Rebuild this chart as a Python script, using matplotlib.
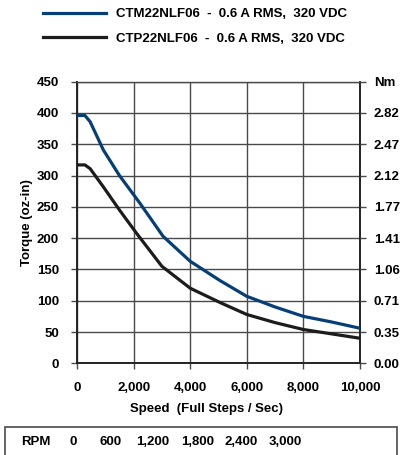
import matplotlib
matplotlib.use("Agg")
import matplotlib.pyplot as plt
from matplotlib.lines import Line2D
from matplotlib.patches import Rectangle

plt.rcParams.update({
    "font.family": ["Liberation Sans", "DejaVu Sans"],
    "font.weight": "bold",
    "axes.labelweight": "bold",
    "font.size": 9.5,
})

# torque curves (oz-in) vs speed (full steps / sec)
ctm_speed = [0, 280, 465, 930, 1500, 2220, 3040, 4000, 5060, 6000, 7000, 8000, 9000, 10000]
ctm_torque = [396, 396, 386, 341, 300, 256, 203, 163, 132, 107, 90, 75, 66, 56]
ctp_speed = [0, 280, 465, 930, 1500, 2100, 3000, 4000, 5060, 6000, 7000, 8000, 9000, 10000]
ctp_torque = [317, 317, 311, 282, 245, 208, 155, 120, 97, 78, 65, 54, 47, 40]

series_labels = ["CTM22NLF06  -  0.6 A RMS,  320 VDC",
                 "CTP22NLF06  -  0.6 A RMS,  320 VDC"]
series_colors = ["#063f78", "#1c1c1c"]

x_ticks = [0, 2000, 4000, 6000, 8000, 10000]
y_ticks = [0, 50, 100, 150, 200, 250, 300, 350, 400, 450]
nm_labels = ["0.00", "0.35", "0.71", "1.06", "1.41", "1.77", "2.12", "2.47", "2.82", "Nm"]
rpm_labels = ["0", "600", "1,200", "1,800", "2,400", "3,000"]

W, H = 406, 455
fig = plt.figure(figsize=(W / 100, H / 100), dpi=100)
ax = fig.add_axes([77 / W, (H - 363.3) / H, 283 / W, 281.6 / H])

grid_c = "#4a4a4a"
ax.plot(ctm_speed, ctm_torque, color=series_colors[0], lw=2.3, zorder=3,
        solid_joinstyle="round")
ax.plot(ctp_speed, ctp_torque, color=series_colors[1], lw=2.3, zorder=3,
        solid_joinstyle="round")

ax.set_xlim(0, 10000)
ax.set_ylim(0, 450)
ax.set_xticks(x_ticks)
ax.set_xticklabels([f"{v:,}" for v in x_ticks])
ax.set_yticks(y_ticks)
ax.grid(True, color=grid_c, lw=1.0)
ax.set_axisbelow(True)
ax.tick_params(direction="out", length=4, width=1.0, color=grid_c)
ax.tick_params(axis="x", pad=9.5)
ax.tick_params(axis="y", pad=9)
for side in ("left", "bottom", "right"):
    ax.spines[side].set_color("#222222")
    ax.spines[side].set_linewidth(1.4)
ax.spines["top"].set_color(grid_c)
ax.spines["top"].set_linewidth(1.0)

ax.set_ylabel("Torque (oz-in)", labelpad=3)
ax.set_xlabel("Speed  (Full Steps / Sec)")
ax.xaxis.set_label_coords(0.458, -0.14)

# right-hand axis in newton-metres
ax2 = ax.twinx()
ax2.set_ylim(ax.get_ylim())
ax2.set_yticks(y_ticks)
ax2.set_yticklabels(nm_labels)
ax2.tick_params(direction="out", length=4, width=1.0, color=grid_c, pad=6)
for s in ax2.spines.values():
    s.set_visible(False)

handles = [Line2D([], [], color=c, lw=2.3) for c in series_colors]
fig.legend(handles, series_labels, loc="upper left",
           bbox_to_anchor=(43 / W, 1 - 8 / H), frameon=False,
           handlelength=4.8, handletextpad=0.75, labelspacing=0.95,
           borderpad=0, borderaxespad=0, fontsize=9.5)

# RPM conversion row under the chart
fig.patches.append(Rectangle((5 / W, -0.02), 392 / W, 0.02 + (H - 427) / H,
                             transform=fig.transFigure, fill=False,
                             ec=grid_c, lw=1.2))
fig.text(36 / W, 13 / H, "RPM", ha="center", va="center")
rpm_x = [73.5, 111, 153, 197.5, 241.5, 285.7]
for x, lab in zip(rpm_x, rpm_labels):
    fig.text(x / W, 13 / H, lab, ha="center", va="center")

fig.savefig("out.png", dpi=100)
